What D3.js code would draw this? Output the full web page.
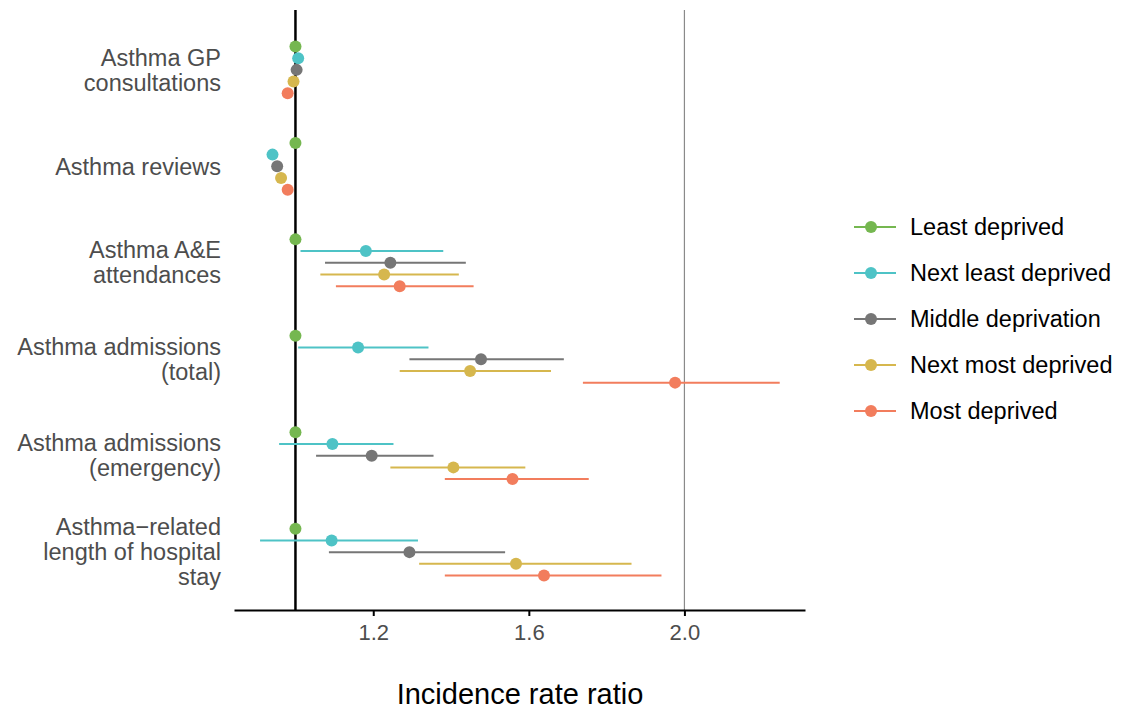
<!DOCTYPE html>
<html><head><meta charset="utf-8">
<script src="https://cdn.jsdelivr.net/npm/d3@7"></script>
<style>body{margin:0;background:#fff;font-family:"Liberation Sans",Arial,sans-serif;}</style>
</head><body><svg id="c" width="1132" height="709"></svg>
<script>
const outcomes = [
  ["Asthma GP", "consultations"],
  ["Asthma reviews"],
  ["Asthma A&E", "attendances"],
  ["Asthma admissions", "(total)"],
  ["Asthma admissions", "(emergency)"],
  ["Asthma\u2212related", "length of hospital", "stay"]
];
const groups = ["Least deprived", "Next least deprived", "Middle deprivation", "Next most deprived", "Most deprived"];
const colors = ["#75b750", "#4ec3c6", "#767676", "#d6b74e", "#f27d5d"];
// IRR estimates per outcome, per group
const irr = [
  [1.00, 1.007, 1.003, 0.995, 0.98],
  [1.00, 0.941, 0.953, 0.963, 0.98],
  [1.00, 1.181, 1.244, 1.228, 1.268],
  [1.00, 1.161, 1.477, 1.449, 1.976],
  [1.00, 1.095, 1.196, 1.406, 1.558],
  [1.00, 1.093, 1.293, 1.567, 1.639]
];
const lower = [
  [1.00, 1.000, 0.996, 0.988, 0.973],
  [1.00, 0.935, 0.947, 0.957, 0.974],
  [1.00, 1.013, 1.076, 1.064, 1.104],
  [1.00, 1.007, 1.293, 1.268, 1.739],
  [1.00, 0.958, 1.053, 1.244, 1.384],
  [1.00, 0.909, 1.086, 1.318, 1.384]
];
const upper = [
  [1.00, 1.014, 1.010, 1.002, 0.987],
  [1.00, 0.947, 0.959, 0.969, 0.986],
  [1.00, 1.380, 1.438, 1.420, 1.458],
  [1.00, 1.342, 1.690, 1.657, 2.245],
  [1.00, 1.252, 1.355, 1.591, 1.754],
  [1.00, 1.315, 1.539, 1.864, 1.941]
];
const xTicks = [1.2, 1.6, 2.0];

(function () {
const svg = d3.select("#c");
const pLeft = 234, pRight = 805, pTop = 12, pBottom = 610;
const x = d3.scaleLinear().domain([0.842, 2.31]).range([pLeft, pRight]);
const y = d3.scalePoint().domain(d3.range(outcomes.length)).range([pTop, pBottom]).padding(0.6);
const dodge = d3.scalePoint().domain(d3.range(groups.length)).range([-23.4, 23.4]);

// reference lines
svg.append("line").attr("x1", x(2.0)).attr("x2", x(2.0)).attr("y1", pTop - 2).attr("y2", pBottom)
  .attr("stroke", "#8a8a8a").attr("stroke-width", 1.2);
svg.append("line").attr("x1", x(1.0)).attr("x2", x(1.0)).attr("y1", pTop - 2).attr("y2", pBottom)
  .attr("stroke", "#000").attr("stroke-width", 2.5);

// data
const rows = [];
outcomes.forEach((o, i) => groups.forEach((g, j) => rows.push({i, j, v: irr[i][j], lo: lower[i][j], hi: upper[i][j]})));
const gMarks = svg.append("g");
gMarks.selectAll("line.ci").data(rows).join("line").attr("class", "ci")
  .attr("x1", d => x(d.lo)).attr("x2", d => x(d.hi))
  .attr("y1", d => y(d.i) + dodge(d.j)).attr("y2", d => y(d.i) + dodge(d.j))
  .attr("stroke", d => colors[d.j]).attr("stroke-width", 2);
gMarks.selectAll("circle").data(rows).join("circle")
  .attr("cx", d => x(d.v)).attr("cy", d => y(d.i) + dodge(d.j)).attr("r", 6)
  .attr("fill", d => colors[d.j]);

// x axis
const ax = svg.append("g").attr("transform", `translate(0,${pBottom})`)
  .call(d3.axisBottom(x).tickValues(xTicks).tickFormat(d3.format(".1f")).tickSize(6).tickSizeOuter(0).tickPadding(8));
ax.select(".domain").attr("stroke", "#000").attr("stroke-width", 2.2);
ax.selectAll(".tick line").attr("stroke", "#000").attr("stroke-width", 2);
ax.selectAll(".tick text").attr("fill", "#4d4d4d").attr("font-size", 22)
  .attr("font-family", "Liberation Sans, Arial, sans-serif");

// y labels
const lh = 25;
outcomes.forEach((lines, i) => {
  const t = svg.append("text").attr("text-anchor", "end").attr("fill", "#4d4d4d")
    .attr("font-size", 23.5).attr("x", 221);
  const y0 = y(i) - (lines.length - 1) * lh / 2;
  lines.forEach((l, k) => t.append("tspan").attr("x", 221).attr("y", y0 + k * lh).attr("dy", "0.35em").text(l));
});

// axis title
svg.append("text").attr("x", 520).attr("y", 704).attr("text-anchor", "middle")
  .attr("font-size", 29).attr("fill", "#000").text("Incidence rate ratio");

// legend
const lg = svg.append("g").attr("transform", "translate(854,227)");
groups.forEach((g, j) => {
  const r = lg.append("g").attr("transform", `translate(0,${j * 46})`);
  r.append("line").attr("x1", 0).attr("x2", 42).attr("stroke", colors[j]).attr("stroke-width", 2);
  r.append("circle").attr("cx", 17).attr("r", 6).attr("fill", colors[j]);
  r.append("text").attr("x", 56).attr("dy", "0.35em").attr("font-size", 23.5).attr("fill", "#000").text(g);
});
})();
</script></body></html>
